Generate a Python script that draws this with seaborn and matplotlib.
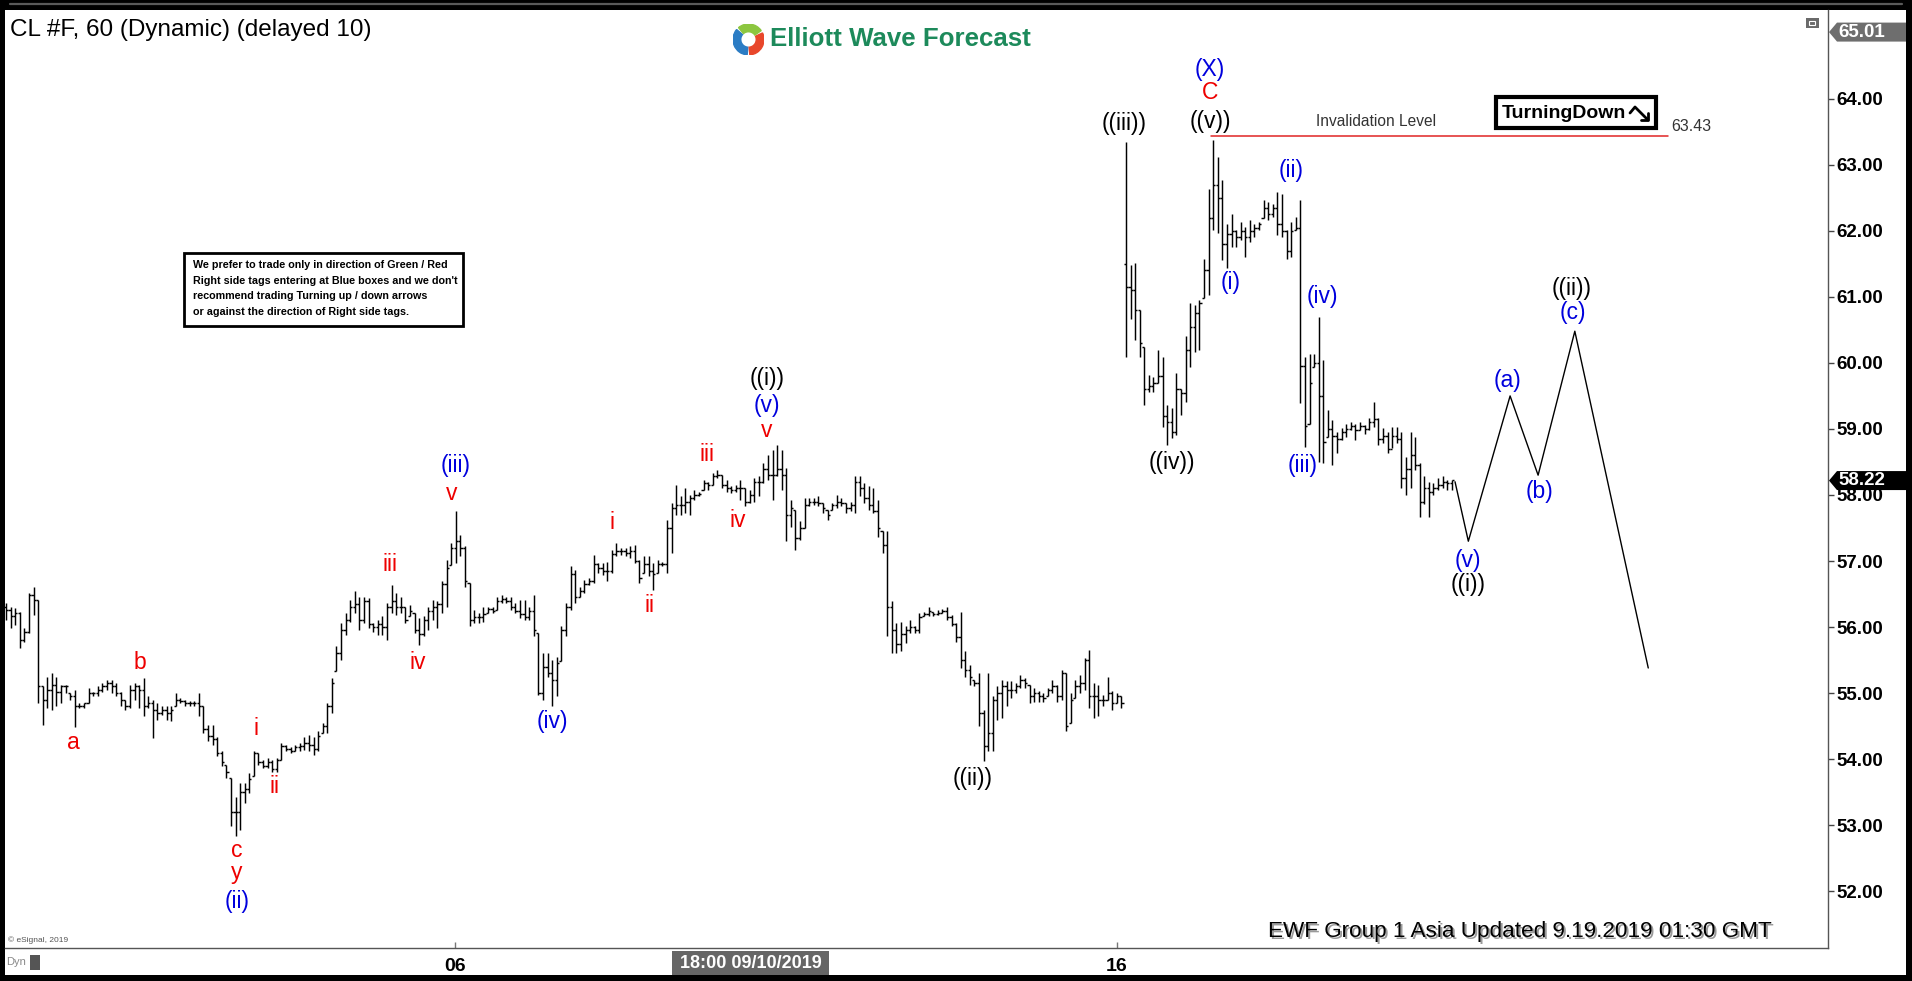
import matplotlib
matplotlib.use("Agg")
import matplotlib.pyplot as plt
import seaborn as sns
import numpy as np
from matplotlib.patches import Rectangle, Polygon, Wedge
from matplotlib.lines import Line2D

# ---------------- data (hourly CL bars) ----------------
highs = [
    56.36, 56.31, 56.29, 56.23, 55.98, 56.51, 56.61, 56.41, 55.10, 55.25,
    55.30, 55.25, 55.13, 55.13, 55.00, 55.05, 54.85, 54.85, 55.07, 55.02,
    55.10, 55.15, 55.20, 55.20, 55.15, 55.02, 54.90, 55.13, 55.15, 55.13,
    55.23, 54.95, 54.90, 54.85, 54.80, 54.80, 54.80, 55.00, 54.92, 54.90,
    54.88, 54.88, 55.00, 54.80, 54.52, 54.52, 54.34, 54.12, 53.91, 53.71,
    53.43, 53.64, 53.64, 53.79, 54.12, 54.09, 53.99, 54.01, 53.99, 54.01,
    54.24, 54.22, 54.19, 54.22, 54.24, 54.34, 54.37, 54.34, 54.42, 54.54,
    54.85, 55.23, 55.71, 56.06, 56.21, 56.41, 56.54, 56.46, 56.46, 56.44,
    56.06, 56.11, 56.16, 56.36, 56.64, 56.51, 56.46, 56.31, 56.34, 56.21,
    56.13, 56.16, 56.31, 56.41, 56.39, 56.69, 57.02, 57.27, 57.75, 57.40,
    57.22, 56.66, 56.26, 56.21, 56.31, 56.31, 56.31, 56.46, 56.49, 56.46,
    56.46, 56.36, 56.41, 56.41, 56.31, 56.49, 55.91, 55.60, 55.60, 55.50,
    55.55, 56.01, 56.36, 56.92, 56.87, 56.61, 56.71, 56.74, 57.09, 56.97,
    56.97, 56.99, 57.17, 57.27, 57.19, 57.19, 57.22, 57.24, 57.02, 57.07,
    57.07, 56.97, 57.02, 56.99, 57.62, 57.88, 58.15, 57.98, 58.10, 58.00,
    58.08, 58.05, 58.23, 58.20, 58.33, 58.38, 58.30, 58.23, 58.13, 58.15,
    58.23, 58.10, 58.08, 58.25, 58.28, 58.48, 58.61, 58.68, 58.76, 58.68,
    58.41, 57.93, 57.78, 57.60, 57.95, 57.95, 57.95, 57.98, 57.88, 57.78,
    57.88, 58.00, 57.95, 57.88, 57.90, 58.28, 58.28, 58.18, 58.13, 58.10,
    57.93, 57.45, 57.45, 56.39, 56.06, 56.08, 56.01, 56.11, 56.01, 56.21,
    56.23, 56.31, 56.23, 56.26, 56.28, 56.31, 56.19, 56.06, 56.23, 55.63,
    55.43, 55.20, 55.30, 54.75, 55.30, 54.95, 55.10, 55.20, 55.18, 55.18,
    55.15, 55.28, 55.23, 55.13, 55.08, 55.03, 55.00, 55.08, 55.20, 55.13,
    55.35, 55.30, 55.00, 55.20, 55.28, 55.53, 55.65, 55.15, 55.13, 54.97,
    55.25, 55.03, 55.00, 54.95, 63.35, 61.48, 61.51, 60.80, 60.24, 59.82,
    59.79, 60.20, 60.09, 59.36, 59.31, 59.84, 59.61, 60.40, 60.90, 60.88,
    60.95, 61.58, 62.64, 63.38, 63.12, 62.77, 62.11, 62.26, 62.01, 62.14,
    62.06, 62.16, 62.11, 62.14, 62.46, 62.44, 62.41, 62.59, 62.56, 62.01,
    62.14, 62.21, 62.46, 60.09, 60.14, 60.14, 60.70, 60.04, 59.29, 59.13,
    58.96, 59.01, 59.08, 59.11, 59.08, 59.11, 59.06, 59.16, 59.41, 59.16,
    59.01, 58.96, 59.03, 59.03, 58.96, 58.58, 58.96, 58.88, 58.48, 58.28,
    58.20, 58.18, 58.25, 58.28, 58.23, 58.23,
]
lows = [
    56.11, 55.98, 56.03, 55.68, 55.78, 55.91, 56.18, 54.85, 54.52, 54.77,
    54.75, 54.80, 54.85, 55.00, 54.90, 54.49, 54.77, 54.77, 54.85, 54.95,
    54.95, 55.02, 55.05, 55.00, 54.95, 54.80, 54.75, 54.77, 54.90, 54.77,
    54.65, 54.77, 54.32, 54.60, 54.67, 54.60, 54.57, 54.80, 54.85, 54.80,
    54.80, 54.80, 54.65, 54.39, 54.27, 54.22, 54.04, 53.89, 53.71, 52.98,
    52.83, 52.93, 53.33, 53.48, 53.74, 53.91, 53.86, 53.86, 53.81, 53.81,
    53.99, 54.12, 54.09, 54.12, 54.12, 54.14, 54.12, 54.07, 54.12, 54.39,
    54.39, 54.70, 55.33, 55.50, 55.88, 56.08, 56.21, 55.96, 56.06, 55.98,
    55.93, 55.88, 55.88, 55.81, 56.21, 56.18, 56.21, 56.06, 56.16, 55.91,
    55.73, 55.86, 55.96, 56.11, 55.98, 56.21, 56.31, 56.94, 56.97, 57.07,
    56.61, 56.01, 56.06, 56.06, 56.08, 56.21, 56.21, 56.26, 56.36, 56.36,
    56.26, 56.21, 56.13, 56.11, 56.11, 55.86, 54.97, 54.90, 55.25, 54.80,
    54.95, 55.48, 55.86, 56.26, 56.36, 56.46, 56.51, 56.64, 56.66, 56.82,
    56.79, 56.69, 56.82, 57.07, 57.09, 57.07, 57.04, 56.97, 56.66, 56.82,
    56.77, 56.56, 56.82, 56.92, 56.82, 57.12, 57.70, 57.70, 57.72, 57.70,
    57.93, 57.98, 58.08, 58.08, 58.15, 58.25, 58.10, 58.05, 58.03, 58.05,
    57.93, 57.83, 57.88, 57.90, 57.98, 58.18, 58.23, 57.93, 58.28, 58.08,
    57.30, 57.52, 57.17, 57.32, 57.50, 57.83, 57.85, 57.83, 57.73, 57.62,
    57.78, 57.80, 57.83, 57.73, 57.75, 57.73, 57.98, 57.88, 57.78, 57.73,
    57.37, 57.12, 55.86, 55.61, 55.61, 55.63, 55.76, 55.91, 55.91, 55.91,
    56.16, 56.16, 56.16, 56.19, 56.21, 56.11, 56.01, 55.78, 55.38, 55.25,
    55.13, 55.10, 54.50, 53.97, 54.12, 54.12, 54.60, 54.62, 54.80, 54.92,
    55.00, 55.08, 55.08, 54.85, 54.87, 54.87, 54.87, 54.95, 55.00, 54.87,
    54.90, 54.42, 54.55, 54.92, 55.00, 55.05, 54.77, 54.62, 54.65, 54.80,
    54.90, 54.75, 54.85, 54.77, 60.09, 60.67, 60.35, 60.09, 59.36, 59.56,
    59.56, 59.69, 59.03, 58.76, 58.86, 58.91, 59.21, 59.41, 59.94, 60.17,
    60.20, 60.98, 61.03, 62.01, 61.96, 61.56, 61.43, 61.76, 61.76, 61.86,
    61.61, 61.83, 61.91, 62.01, 62.19, 62.16, 62.21, 61.93, 61.91, 61.58,
    61.61, 62.01, 59.39, 58.73, 59.08, 59.94, 58.50, 58.48, 58.88, 58.45,
    58.63, 58.83, 58.88, 58.98, 58.83, 58.98, 58.93, 58.98, 59.03, 58.76,
    58.78, 58.63, 58.71, 58.78, 58.10, 58.00, 58.10, 58.38, 57.67, 57.87,
    57.67, 58.00, 58.07, 58.10, 58.07, 58.07,
]
opens = [
    56.30, 56.26, 56.16, 56.21, 55.81, 55.93, 56.49, 56.41, 55.10, 54.90,
    55.05, 55.13, 55.02, 55.10, 55.00, 54.95, 54.80, 54.80, 54.85, 55.00,
    55.00, 55.05, 55.10, 55.15, 55.10, 55.00, 54.90, 54.80, 55.05, 55.10,
    55.05, 54.80, 54.85, 54.75, 54.70, 54.75, 54.70, 54.80, 54.90, 54.88,
    54.85, 54.85, 54.85, 54.80, 54.45, 54.35, 54.30, 54.10, 53.91, 53.71,
    53.20, 53.20, 53.50, 53.55, 53.74, 54.09, 53.95, 53.90, 53.95, 53.85,
    53.99, 54.20, 54.15, 54.12, 54.18, 54.20, 54.25, 54.22, 54.15, 54.39,
    54.50, 54.80, 55.33, 55.60, 55.95, 56.10, 56.30, 56.35, 56.10, 56.40,
    56.05, 56.00, 56.05, 56.00, 56.30, 56.40, 56.30, 56.30, 56.16, 56.21,
    55.95, 55.90, 56.10, 56.25, 56.30, 56.35, 56.65, 56.94, 57.20, 57.30,
    57.20, 56.66, 56.10, 56.15, 56.15, 56.21, 56.28, 56.26, 56.40, 56.43,
    56.40, 56.30, 56.25, 56.20, 56.15, 56.25, 55.91, 55.00, 55.40, 55.30,
    55.20, 55.48, 55.95, 56.30, 56.80, 56.46, 56.55, 56.65, 56.70, 56.95,
    56.90, 56.85, 56.85, 57.10, 57.15, 57.15, 57.12, 57.15, 57.00, 56.82,
    56.95, 56.85, 56.82, 56.95, 56.95, 57.50, 57.80, 57.85, 57.85, 57.90,
    57.95, 58.00, 58.08, 58.18, 58.15, 58.28, 58.30, 58.15, 58.10, 58.08,
    58.10, 58.10, 57.90, 58.00, 58.20, 58.20, 58.40, 58.30, 58.30, 58.40,
    58.30, 57.70, 57.78, 57.35, 57.50, 57.85, 57.90, 57.90, 57.88, 57.78,
    57.78, 57.85, 57.90, 57.88, 57.80, 57.85, 58.20, 58.10, 57.95, 57.85,
    57.75, 57.45, 57.25, 56.30, 55.95, 55.75, 55.90, 55.95, 56.00, 55.95,
    56.16, 56.20, 56.23, 56.20, 56.22, 56.25, 56.15, 56.05, 55.85, 55.50,
    55.35, 55.20, 55.15, 54.70, 54.20, 54.40, 54.90, 55.00, 55.10, 55.05,
    55.05, 55.10, 55.20, 55.13, 54.95, 55.00, 54.95, 54.95, 55.05, 55.10,
    54.95, 55.30, 54.55, 54.92, 55.10, 55.15, 55.50, 54.95, 54.95, 54.90,
    54.90, 55.00, 54.85, 54.95, 61.50, 61.15, 61.10, 60.80, 60.24, 59.60,
    59.65, 59.70, 59.80, 59.20, 59.10, 58.95, 59.60, 59.55, 60.20, 60.55,
    60.75, 60.98, 61.40, 62.20, 62.70, 62.50, 61.80, 61.95, 62.00, 61.90,
    62.00, 61.90, 62.00, 62.05, 62.19, 62.35, 62.25, 62.35, 62.10, 62.00,
    61.70, 62.01, 62.05, 59.95, 59.08, 59.94, 60.00, 59.50, 58.88, 59.00,
    58.90, 58.85, 58.95, 59.00, 59.05, 58.98, 59.05, 59.00, 59.10, 59.15,
    58.85, 58.90, 58.70, 58.90, 58.85, 58.25, 58.40, 58.60, 58.45, 57.90,
    58.10, 58.05, 58.10, 58.15, 58.20, 58.18,
]
closes = [
    56.26, 56.16, 56.21, 55.81, 55.93, 56.49, 56.41, 55.10, 54.90, 55.05,
    55.13, 55.02, 55.10, 55.10, 54.95, 54.80, 54.80, 54.85, 55.00, 55.00,
    55.05, 55.10, 55.15, 55.10, 55.00, 54.90, 54.80, 55.05, 55.10, 55.05,
    54.80, 54.85, 54.75, 54.70, 54.75, 54.70, 54.75, 54.90, 54.88, 54.85,
    54.85, 54.85, 54.80, 54.45, 54.35, 54.30, 54.10, 53.95, 53.80, 53.20,
    53.20, 53.50, 53.55, 53.70, 54.10, 53.95, 53.90, 53.95, 53.85, 53.98,
    54.20, 54.15, 54.12, 54.18, 54.20, 54.25, 54.22, 54.15, 54.35, 54.50,
    54.80, 55.15, 55.60, 55.95, 56.10, 56.30, 56.35, 56.10, 56.40, 56.05,
    56.00, 56.05, 56.00, 56.30, 56.40, 56.30, 56.30, 56.10, 56.25, 55.95,
    55.90, 56.10, 56.25, 56.30, 56.35, 56.65, 56.90, 57.20, 57.30, 57.20,
    56.70, 56.10, 56.15, 56.15, 56.20, 56.28, 56.25, 56.40, 56.43, 56.40,
    56.30, 56.25, 56.20, 56.15, 56.25, 55.95, 55.00, 55.40, 55.30, 55.20,
    55.45, 55.95, 56.30, 56.80, 56.45, 56.55, 56.65, 56.70, 56.95, 56.90,
    56.85, 56.85, 57.10, 57.15, 57.15, 57.12, 57.15, 57.00, 56.75, 56.95,
    56.85, 56.80, 56.95, 56.95, 57.50, 57.80, 57.85, 57.85, 57.90, 57.95,
    58.00, 58.02, 58.18, 58.15, 58.28, 58.30, 58.15, 58.10, 58.08, 58.10,
    58.10, 57.90, 58.00, 58.20, 58.20, 58.40, 58.30, 58.30, 58.40, 58.30,
    57.70, 57.80, 57.35, 57.50, 57.85, 57.90, 57.90, 57.88, 57.80, 57.70,
    57.85, 57.90, 57.88, 57.80, 57.85, 58.20, 58.10, 57.95, 57.85, 57.75,
    57.50, 57.25, 56.30, 55.95, 55.75, 55.90, 55.95, 56.00, 55.95, 56.15,
    56.20, 56.25, 56.20, 56.22, 56.25, 56.15, 56.05, 55.85, 55.50, 55.35,
    55.25, 55.15, 54.70, 54.20, 54.40, 54.90, 55.00, 55.10, 55.05, 55.05,
    55.10, 55.20, 55.15, 54.95, 55.00, 54.95, 54.92, 55.05, 55.10, 54.95,
    55.30, 54.50, 54.90, 55.10, 55.15, 55.50, 54.95, 54.95, 54.90, 54.90,
    55.00, 54.85, 54.95, 54.85, 61.15, 61.10, 60.80, 60.30, 59.60, 59.65,
    59.70, 59.80, 59.20, 59.10, 58.95, 59.60, 59.55, 60.20, 60.55, 60.75,
    60.90, 61.40, 62.20, 62.70, 62.50, 61.80, 61.95, 62.00, 61.90, 62.00,
    61.90, 62.00, 62.05, 62.10, 62.35, 62.25, 62.35, 62.10, 62.00, 61.70,
    62.00, 62.05, 59.95, 59.05, 59.70, 60.00, 59.50, 58.80, 59.00, 58.90,
    58.85, 58.95, 59.00, 59.05, 58.98, 59.05, 59.00, 59.10, 59.15, 58.85,
    58.90, 58.70, 58.90, 58.85, 58.25, 58.40, 58.60, 58.45, 57.90, 58.10,
    58.05, 58.10, 58.15, 58.20, 58.18, 58.22,
]

# projected Elliott path (bar index, price)
proj_x = [315.7, 318.6, 327.7, 333.8, 341.8, 357.8]
proj_y = [58.20, 57.30, 59.50, 58.30, 60.48, 55.38]

invalidation_level = 63.43
invalidation_x = [262.5, 362.0]

price_ticks = [52, 53, 54, 55, 56, 57, 58, 59, 60, 61, 62, 63, 64]
date_tick_pos = [97.8, 242.0]
date_tick_labels = ["06", "16"]
last_price = 58.22
top_price = 65.01

wave_text = ["a", "b", "i", "ii", "c", "y", "(ii)", "iii", "iv", "v", "(iii)", "(iv)",
             "i", "ii", "iii", "iv", "v", "(v)", "((i))", "((ii))", "((iii))", "((iv))",
             "(X)", "C", "((v))", "(i)", "(ii)", "(iv)", "(iii)", "(v)", "((i))",
             "(a)", "(b)", "((ii))", "(c)"]
wave_x = [14.6, 29.2, 54.5, 58.4, 50.3, 50.3, 50.3, 83.7, 89.8, 97.2, 98.0, 119.0,
          132.0, 140.3, 152.7, 159.5, 165.8, 165.8, 165.8, 210.7, 243.6, 254.0,
          262.3, 262.3, 262.5, 266.7, 280.0, 286.9, 282.4, 318.5, 318.5,
          327.2, 334.0, 341.0, 341.4]
wave_y = [54.25, 55.47, 54.46, 53.58, 52.61, 52.28, 51.84, 56.94, 55.47, 58.03, 58.45, 54.57,
          57.59, 56.33, 58.62, 57.61, 58.98, 59.35, 59.77, 53.71, 63.62, 58.49,
          64.44, 64.09, 63.66, 61.22, 62.91, 61.01, 58.45, 57.01, 56.64,
          59.74, 58.06, 61.12, 60.76]
wave_col = ["r", "r", "r", "r", "r", "r", "b", "r", "r", "r", "b", "b",
            "r", "r", "r", "r", "r", "b", "k", "k", "k", "k",
            "b", "r", "k", "b", "b", "b", "b", "b", "k",
            "b", "b", "k", "b"]

notice_lines = ["We prefer to trade only in direction of Green / Red",
                "Right side tags entering at Blue boxes and we don't",
                "recommend trading Turning up / down arrows",
                "or against the direction of Right side tags."]

# ---------------- figure ----------------
sns.set_theme(style="white")
plt.rcParams['font.family'] = ['Liberation Sans', 'DejaVu Sans']

W, H = 1912, 981
fig = plt.figure(figsize=(W / 100, H / 100), dpi=100)
fig.patch.set_facecolor('black')


def fx(X):
    return X / W


def fy(Y):
    return 1 - Y / H


fig.patches.append(Rectangle((fx(5), fy(975)), fx(1906) - fx(5), fy(10) - fy(975),
                             transform=fig.transFigure, facecolor='white',
                             edgecolor='none', zorder=-5))
fig.add_artist(Line2D([fx(10), fx(1902)], [fy(4), fy(4)], color='#5a5a5a', lw=1.6,
                      transform=fig.transFigure))

ax = fig.add_axes([fx(5), fy(948), fx(1828) - fx(5), fy(10) - fy(948)])
ax.set_facecolor('white')

n = min(len(highs), len(lows), len(opens), len(closes))
xs = np.arange(n)
hi = np.array(highs[:n]); lo = np.array(lows[:n])
op = np.array(opens[:n]); cl = np.array(closes[:n])

ax.vlines(xs, lo, hi, colors='black', linewidth=1.05)
ax.hlines(op, xs - 0.48, xs, colors='black', linewidth=1.05)
ax.hlines(cl, xs, xs + 0.48, colors='black', linewidth=1.05)

sns.lineplot(x=proj_x, y=proj_y, sort=False, estimator=None, color='black',
             linewidth=1.0, ax=ax)
sns.lineplot(x=invalidation_x, y=[invalidation_level] * 2, sort=False, estimator=None,
             color='#e02424', linewidth=1.1, ax=ax)

cmap = {"r": "#ee0000", "b": "#0000dd", "k": "black"}
for t, x, y, c in zip(wave_text, wave_x, wave_y, wave_col):
    ax.text(x, y, t, color=cmap[c], fontsize=16.5, ha='center', va='center')

ax.text(298.4, 63.65, "Invalidation Level", fontsize=11.2, color='#333333',
        ha='center', va='center')
ax.text(362.8, 63.58, "63.43", fontsize=11.5, color='#333333', ha='left', va='center')

ax.set_xlim(-0.22, 396.96)
ax.set_ylim(51.14, 65.344)

ax.yaxis.tick_right()
ax.set_yticks(price_ticks)
ax.set_yticklabels([f"{v:.2f}" for v in price_ticks])
ax.tick_params(axis='y', which='major', direction='out', length=4, width=1,
               color='#444444', pad=2, labelsize=13.5, labelcolor='black', right=True, left=False)
for lbl in ax.get_yticklabels():
    lbl.set_fontweight('bold')

ax.set_xticks(date_tick_pos)
ax.set_xticklabels(date_tick_labels)
ax.tick_params(axis='x', direction='in', length=4, width=1, color='#777777',
               pad=7, labelsize=14, labelcolor='black', bottom=True)
for lbl in ax.get_xticklabels():
    lbl.set_fontweight('bold')

for s in ['top', 'left']:
    ax.spines[s].set_visible(False)
for s in ['right', 'bottom']:
    ax.spines[s].set_visible(True)
    ax.spines[s].set_color('#555555')
    ax.spines[s].set_linewidth(1.0)
ax.grid(False)

# ---------------- header ----------------
fig.text(fx(10), fy(30), "CL #F, 60 (Dynamic) (delayed 10)", fontsize=17.5,
         color='black', ha='left', va='center')

lax = fig.add_axes([fx(733), fy(55), 31 / W, 31 / H])
lax.set_xlim(-1, 1); lax.set_ylim(-1, 1); lax.set_aspect('equal'); lax.axis('off')
lax.add_patch(Wedge((0, 0), 1, 140, 265, width=0.5, color='#2b7cc4'))
lax.add_patch(Wedge((0, 0), 1, 275, 25, width=0.5, color='#e8472b'))
lax.add_patch(Wedge((0, 0), 1, 35, 130, width=0.5, color='#8cc63f'))
fig.text(fx(770), fy(39), "Elliott Wave Forecast", fontsize=18.6, fontweight='bold',
         color='#1d8a5b', ha='left', va='center')

# notice box
fig.patches.append(Rectangle((fx(184), fy(326)), fx(463) - fx(184), fy(253) - fy(326),
                             transform=fig.transFigure, facecolor='white',
                             edgecolor='black', linewidth=2, zorder=3))
for k, line in enumerate(notice_lines):
    fig.text(fx(193), fy(265 + 15.7 * k), line, fontsize=7.75, fontweight='bold',
             color='black', ha='left', va='center', zorder=4)

# TurningDown box
fig.patches.append(Rectangle((fx(1496), fy(128)), fx(1656) - fx(1496), fy(97) - fy(128),
                             transform=fig.transFigure, facecolor='white',
                             edgecolor='black', linewidth=3, zorder=3))
fig.text(fx(1502), fy(113), "TurningDown", fontsize=14, fontweight='bold',
         color='black', ha='left', va='center', zorder=4)
fig.add_artist(Line2D([fx(1630), fx(1635), fx(1648)], [fy(113), fy(107), fy(120)],
                      color='black', lw=2, transform=fig.transFigure, zorder=4))
fig.add_artist(Line2D([fx(1648), fx(1648), fx(1641)], [fy(113), fy(120), fy(120)],
                      color='black', lw=2, transform=fig.transFigure, zorder=4))

# small window icon
fig.patches.append(Rectangle((fx(1806), fy(28)), 13 / W, 10 / H, transform=fig.transFigure,
                             facecolor='#6a6a6a', edgecolor='none', zorder=3))
fig.patches.append(Rectangle((fx(1809), fy(25)), 6 / W, 4 / H, transform=fig.transFigure,
                             facecolor='none', edgecolor='white', linewidth=0.8, zorder=4))


# right-axis markers
def price_y(p):
    return 98.8 + (64 - p) * 66.05


for p, col in [(top_price, '#6e6e6e'), (last_price, 'black')]:
    yc = price_y(p)
    fig.patches.append(Polygon([(fx(1829), fy(yc)), (fx(1837), fy(yc - 9.5)),
                                (fx(1906), fy(yc - 9.5)), (fx(1906), fy(yc + 9.5)),
                                (fx(1837), fy(yc + 9.5))], closed=True,
                               transform=fig.transFigure, facecolor=col,
                               edgecolor='none', zorder=5))
    fig.text(fx(1838), fy(yc), f"{p:.2f}", fontsize=13.5, fontweight='bold',
             color='white', ha='left', va='center', zorder=6)

# bottom elements
ewf = "EWF Group 1 Asia Updated 9.19.2019 01:30 GMT"
fig.text(fx(1270), fy(934), ewf, fontsize=16.2, color='#9a9a9a',
         ha='left', va='center', zorder=3)
fig.text(fx(1268), fy(932), ewf, fontsize=16.2, color='black',
         ha='left', va='center', zorder=4)
fig.text(fx(8), fy(940), "© eSignal, 2019", fontsize=6, color='#555555',
         ha='left', va='center')

fig.patches.append(Rectangle((fx(672), fy(975)), fx(829) - fx(672), fy(951) - fy(975),
                             transform=fig.transFigure, facecolor='#666666',
                             edgecolor='none', zorder=5))
fig.text(fx(750.5), fy(963.5), "18:00 09/10/2019", fontsize=13, fontweight='bold',
         color='white', ha='center', va='center', zorder=6)

fig.text(fx(6), fy(962), "Dyn", fontsize=8, color='#888888', ha='left', va='center')
fig.patches.append(Rectangle((fx(30), fy(970)), 10 / W, 15 / H, transform=fig.transFigure,
                             facecolor='#555555', edgecolor='none', zorder=3))

fig.savefig("out.png", dpi=100, facecolor=fig.get_facecolor())
